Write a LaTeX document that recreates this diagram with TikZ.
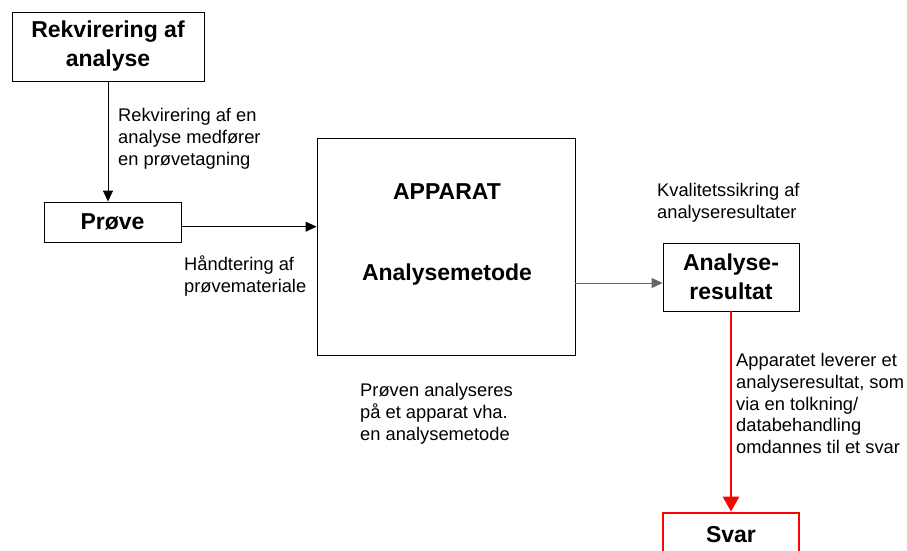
\documentclass[tikz,border=0pt]{standalone}
\usepackage{fontspec}
\setmainfont{Liberation Sans}
\usetikzlibrary{arrows.meta}
\tikzset{
  box/.style={draw=black, line width=0.9pt, inner sep=0pt, font=\fontsize{23}{29}\selectfont\bfseries, align=center},
  lbl/.style={inner sep=0pt, anchor=north west, align=left, font=\fontsize{18.3}{21.8}\selectfont},
  big/.style={inner sep=0pt, font=\fontsize{23}{29}\selectfont\bfseries},
  arr/.style={line width=0.9pt, -{Triangle[length=11pt,width=10pt]}},
  redarr/.style={draw=red, line width=2.8pt, -{Triangle[length=15pt,width=16pt]}}
}
\begin{document}
\begin{tikzpicture}[x=1pt,y=-1pt]
\clip (0,0) rectangle (907,551);
\fill[white] (0,0) rectangle (907,551);
\node[box, minimum width=192pt, minimum height=69pt] (req) at (108,46.5) {Rekvirering af\\analyse};
\node[box, minimum width=137pt, minimum height=40pt] (prove) at (112.5,222) {Prøve};
\node[box, minimum width=258pt, minimum height=217pt] (app) at (446,246.5) {};
\node[big] (apptitle) at (447,192) {APPARAT};
\node[big] (appmeth) at (447,275) {Analysemetode};
\node[box, minimum width=136pt, minimum height=68pt] (res) at (731,277) {Analyse-\\resultat};
\node[box, draw=red, line width=2.8pt, minimum width=136pt, minimum height=44pt] (svar) at (731,535) {Svar};

\draw[arr] (req.south) -- (req.south |- prove.north);
\draw[arr] ([yshift=-4.7pt]prove.east) -- ([yshift=-4.7pt]prove.east -| app.west);
\draw[arr, draw=black!60] ([yshift=-36.5pt]app.east) -- ([yshift=-36.5pt]app.east -| res.west);
\draw[redarr] (res.south) -- (svar.north);

\node[lbl] (l1) at (118,108) {Rekvirering af en\\analyse medfører\\en prøvetagning};
\node[lbl] (l2) at (184,256) {Håndtering af\\prøvemateriale};
\node[lbl] (l3) at (360,383) {Prøven analyseres\\på et apparat vha.\\en analysemetode};
\node[lbl] (l4) at (657,183) {Kvalitetssikring af\\analyseresultater};
\node[lbl] (l5) at (736,353) {Apparatet leverer et\\analyseresultat, som\\via en tolkning/\\databehandling\\omdannes til et svar};
\end{tikzpicture}
\end{document}
